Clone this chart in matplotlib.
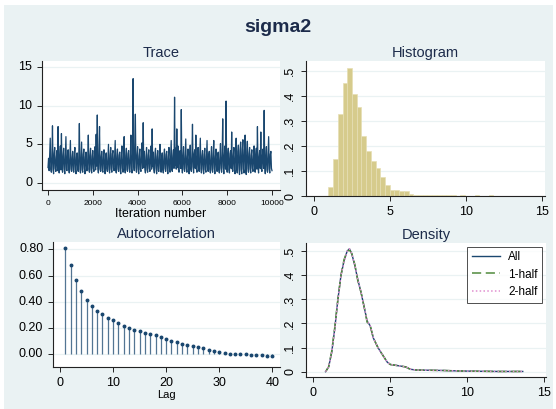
import numpy as np
import matplotlib
matplotlib.use("Agg")
import matplotlib.pyplot as plt

plt.rcParams['font.family'] = ['Liberation Sans', 'DejaVu Sans']

# ---------------- data ----------------
trace_step = 50  # trace_a at 0, 50, 100, ...; trace_b half a step later
trace_a = [
    2.0, 1.6, 5.8, 1.4, 7.4, 1.2, 4.6, 1.5, 4.2, 7.3,
    1.3, 4.8, 6.4, 1.4, 4.5, 1.2, 6.0, 1.6, 4.3, 1.3,
    5.5, 1.5, 4.1, 1.4, 4.6, 1.2, 3.9, 1.5, 7.7, 1.3,
    5.3, 1.4, 4.4, 1.2, 4.0, 1.6, 6.2, 1.4, 4.5, 1.3,
    4.2, 1.5, 4.7, 6.3, 8.8, 1.3, 7.3, 1.5, 4.1, 1.4,
    4.3, 1.2, 3.9, 1.5, 5.0, 1.3, 4.6, 1.4, 4.2, 1.6,
    5.5, 1.3, 4.4, 1.5, 4.0, 1.2, 4.8, 1.4, 6.0, 1.3,
    4.5, 1.5, 4.2, 1.4, 6.2, 1.3, 13.5, 1.6, 8.9, 1.4,
    4.7, 1.2, 4.4, 1.5, 5.2, 7.8, 4.1, 1.3, 4.6, 1.4,
    4.3, 1.5, 4.8, 7.0, 4.0, 1.3, 4.5, 1.2, 4.2, 1.5,
    5.0, 1.4, 3.9, 1.3, 4.4, 1.5, 4.1, 1.2, 4.6, 1.4,
    5.5, 1.5, 4.3, 11.1, 4.5, 7.0, 4.8, 1.4, 4.2, 9.5,
    1.3, 4.7, 1.5, 5.7, 1.4, 4.4, 1.2, 4.9, 1.5, 7.6,
    1.3, 4.3, 6.2, 1.4, 4.6, 1.5, 5.8, 1.3, 4.2, 1.2,
    4.5, 1.4, 5.5, 1.5, 4.1, 1.3, 4.7, 1.4, 5.5, 1.2,
    4.4, 1.5, 4.0, 1.3, 5.1, 1.4, 8.3, 1.2, 4.8, 10.6,
    1.4, 4.5, 1.3, 4.2, 6.6, 1.5, 4.6, 1.2, 5.8, 1.3,
    4.9, 1.1, 5.3, 1.2, 5.6, 1.3, 6.2, 1.1, 5.4, 1.4,
    4.6, 1.3, 4.3, 1.5, 4.8, 1.4, 4.5, 7.3, 1.3, 4.2,
    6.6, 1.5, 4.4, 9.4, 1.2, 4.7, 1.4, 6.0, 1.3, 4.1,
    1.6,
]
trace_b = [
    3.2, 3.6, 1.8, 3.4, 1.7, 3.8, 1.9, 3.3, 1.6, 2.1,
    3.5, 1.7, 1.9, 3.6, 1.8, 3.4, 1.7, 3.7, 1.9, 3.5,
    1.8, 3.3, 1.6, 3.8, 1.7, 3.4, 1.9, 3.6, 1.8, 3.5,
    1.7, 3.7, 1.9, 3.4, 1.6, 3.3, 1.8, 3.6, 1.7, 3.5,
    1.9, 3.8, 1.7, 2.2, 1.9, 3.6, 1.8, 3.4, 1.6, 3.7,
    1.8, 3.5, 1.9, 3.3, 1.7, 3.6, 1.8, 3.8, 1.9, 3.4,
    1.7, 3.5, 1.8, 3.6, 1.6, 3.7, 1.9, 3.3, 1.8, 3.5,
    1.7, 3.8, 1.9, 3.4, 1.8, 3.9, 2.4, 4.2, 2.0, 3.6,
    1.8, 3.5, 1.7, 3.7, 1.9, 2.0, 1.8, 3.4, 1.7, 3.6,
    1.9, 3.5, 1.8, 2.1, 1.7, 3.8, 1.9, 3.4, 1.6, 3.6,
    1.8, 3.3, 1.7, 3.5, 1.9, 3.7, 1.8, 3.4, 1.6, 3.6,
    1.8, 3.5, 1.9, 2.3, 1.8, 2.0, 1.7, 3.6, 1.9, 2.2,
    3.5, 1.8, 3.7, 1.9, 3.4, 1.7, 3.6, 1.8, 3.5, 2.1,
    3.8, 1.9, 1.8, 3.4, 1.7, 3.6, 1.9, 3.5, 1.8, 3.7,
    1.7, 3.4, 1.9, 3.6, 1.8, 3.5, 1.7, 3.8, 1.9, 3.4,
    1.8, 3.6, 1.7, 3.5, 1.9, 3.7, 2.0, 3.6, 1.8, 2.3,
    3.5, 1.7, 3.8, 1.9, 1.8, 3.6, 1.7, 3.9, 1.8, 4.1,
    1.8, 4.2, 1.7, 4.4, 1.8, 4.3, 1.7, 4.1, 1.9, 3.8,
    1.8, 3.6, 1.9, 3.5, 1.7, 3.7, 1.8, 2.1, 3.4, 1.9,
    1.8, 3.6, 1.9, 2.2, 3.5, 1.7, 3.6, 1.8, 3.7, 1.9,
]

hist_start = 0.95
hist_width = 0.31
hist_heights = [0.037, 0.148, 0.327, 0.453, 0.513, 0.407, 0.355, 0.238, 0.181, 0.140,
                0.110, 0.077, 0.043, 0.025, 0.025, 0.020, 0.020, 0.008, 0.004, 0.004,
                0.004, 0.003, 0.003, 0.002, 0.003, 0.002, 0.002, 0.001, 0.002, 0.001,
                0.001, 0.002, 0.0, 0.001, 0.002, 0.0, 0.0, 0.001, 0.0, 0.0, 0.001]

acf_lags = list(range(1, 41))
acf_vals = [0.81, 0.68, 0.57, 0.48, 0.415, 0.365, 0.33, 0.305, 0.28, 0.26,
            0.235, 0.215, 0.20, 0.185, 0.175, 0.165, 0.155, 0.145, 0.135, 0.12,
            0.105, 0.09, 0.08, 0.07, 0.065, 0.055, 0.045, 0.035, 0.025, 0.015,
            0.01, 0.003, 0.0, 0.0, 0.002, -0.002, -0.003, -0.007, -0.012, -0.015]

dens_x = [0.8, 1.0, 1.2, 1.4, 1.6, 1.8, 2.0, 2.2, 2.35, 2.5, 2.7, 2.9, 3.1, 3.3, 3.5,
          3.7, 3.9, 4.2, 4.5, 4.8, 5.0, 5.5, 6.0, 6.3, 6.7, 7.5, 8.5, 9.5, 10.5, 12.0, 13.6]
dens_all = [0.0, 0.02, 0.08, 0.18, 0.30, 0.40, 0.46, 0.50, 0.51, 0.49, 0.44, 0.38, 0.33,
            0.27, 0.21, 0.19, 0.14, 0.10, 0.07, 0.04, 0.03, 0.025, 0.02, 0.01, 0.007,
            0.006, 0.005, 0.003, 0.002, 0.001, 0.001]
dens_half1 = [0.0, 0.02, 0.085, 0.185, 0.30, 0.40, 0.465, 0.50, 0.505, 0.49, 0.445, 0.375,
              0.33, 0.27, 0.205, 0.19, 0.14, 0.10, 0.07, 0.04, 0.03, 0.025, 0.02, 0.01,
              0.007, 0.006, 0.005, 0.003, 0.002, 0.001, 0.001]
dens_half2 = [0.0, 0.02, 0.08, 0.175, 0.295, 0.40, 0.455, 0.50, 0.51, 0.49, 0.44, 0.38,
              0.33, 0.27, 0.21, 0.19, 0.14, 0.10, 0.07, 0.04, 0.03, 0.025, 0.02, 0.01,
              0.007, 0.006, 0.005, 0.003, 0.002, 0.001, 0.001]

# ---------------- style ----------------
BG = '#eaf2f3'
NAVY = '#1a476f'
TXT = '#1c2b4a'
W, H = 556, 409


def px_axes(fig, x0, y0, x1, y1):
    # pixel box (left, top, right, bottom) -> axes
    return fig.add_axes([x0 / W, 1 - y1 / H, (x1 - x0) / W, (y1 - y0) / H])


def stata_style(ax, yticks, ylabels, rot=0):
    ax.set_facecolor('white')
    for s in ['top', 'right']:
        ax.spines[s].set_visible(False)
    for s in ['left', 'bottom']:
        ax.spines[s].set_color('#222222')
        ax.spines[s].set_linewidth(0.8)
    ax.set_yticks(yticks)
    ax.set_yticklabels(ylabels, rotation=rot, va='center')
    ax.tick_params(axis='both', colors='#222222', labelcolor='black', length=3.5,
                   width=0.7, labelsize=9)
    ax.grid(axis='y', color=BG, lw=0.9)
    ax.set_axisbelow(True)


fig = plt.figure(figsize=(W / 100, H / 100), dpi=100)
fig.patch.set_facecolor('white')
fig.patches.append(plt.Rectangle((4 / W, 0), 549 / W, 1 - 5 / H, transform=fig.transFigure,
                                 facecolor=BG, edgecolor='none', zorder=-10))
fig.text(0.5, 1 - 27 / H, 'sigma2', ha='center', va='center', fontsize=14,
         fontweight='bold', color=TXT)

# Trace: interleave the two lists in iteration order
it_a = np.arange(len(trace_a)) * trace_step
it_b = np.arange(len(trace_b)) * trace_step + trace_step / 2
iters = np.concatenate([it_a, it_b])
vals = np.concatenate([trace_a, trace_b])
order = np.argsort(iters)

ax1 = px_axes(fig, 42, 61, 280, 190)
stata_style(ax1, [0, 5, 10, 15], ['0', '5', '10', '15'])
ax1.plot(iters[order], vals[order], color=NAVY, lw=0.9)
ax1.set_xlim(-268, 10357)
ax1.set_ylim(-0.9, 15.78)
ax1.set_xticks([0, 2000, 4000, 6000, 8000, 10000])
ax1.tick_params(axis='x', labelsize=6)
ax1.set_xlabel('Iteration number', fontsize=9, labelpad=1)
ax1.set_title('Trace', fontsize=10.5, color=TXT, pad=3)

# Histogram
ax2 = px_axes(fig, 306, 61, 545, 196)
stata_style(ax2, [0, 0.1, 0.2, 0.3, 0.4, 0.5], ['0', '.1', '.2', '.3', '.4', '.5'], rot=90)
lefts = hist_start + hist_width * np.arange(len(hist_heights))
ax2.bar(lefts, hist_heights, width=hist_width, align='edge', color='#d6cb8c',
        edgecolor='#e6dfb4', lw=0.5)
ax2.set_xlim(-0.53, 15.2)
ax2.set_ylim(0, 0.539)
ax2.set_xticks([0, 5, 10, 15])
ax2.set_title('Histogram', fontsize=10.5, color=TXT, pad=3)

# Autocorrelation
ax3 = px_axes(fig, 53, 242, 280, 367)
stata_style(ax3, [0, 0.2, 0.4, 0.6, 0.8], ['0.00', '0.20', '0.40', '0.60', '0.80'])
ax3.vlines(acf_lags, 0, acf_vals, color=NAVY, lw=0.9, alpha=0.75)
ax3.plot(acf_lags, acf_vals, 'o', color=NAVY, ms=1.8)
ax3.set_xlim(-1.32, 41.45)
ax3.set_ylim(-0.097, 0.856)
ax3.set_xticks([0, 10, 20, 30, 40])
ax3.set_xlabel('Lag', fontsize=8, labelpad=1)
ax3.set_title('Autocorrelation', fontsize=10.5, color=TXT, pad=3)

# Density
ax4 = px_axes(fig, 306, 243, 546, 377)
stata_style(ax4, [0, 0.1, 0.2, 0.3, 0.4, 0.5], ['0', '.1', '.2', '.3', '.4', '.5'], rot=90)
ax4.plot(dens_x, dens_all, color=NAVY, lw=1.0, label='All')
ax4.plot(dens_x, dens_half1, color='#4f8a3c', lw=1.1, ls=(0, (6, 3)), label='1-half')
ax4.plot(dens_x, dens_half2, color='#e08fd0', lw=1.1, ls=(0, (1, 1.5)), label='2-half')
ax4.set_xlim(-0.47, 15.11)
ax4.set_ylim(-0.022, 0.534)
ax4.set_xticks([0, 5, 10, 15])
ax4.set_title('Density', fontsize=10.5, color=TXT, pad=3)
leg = ax4.legend(loc='upper right', fontsize=8.5, frameon=True, fancybox=False,
                 handlelength=2.4, handletextpad=0.7, borderaxespad=0.3,
                 labelspacing=0.45)
leg.get_frame().set_edgecolor('#222222')
leg.get_frame().set_linewidth(0.7)

fig.savefig('out.png', dpi=100, facecolor=fig.get_facecolor())
